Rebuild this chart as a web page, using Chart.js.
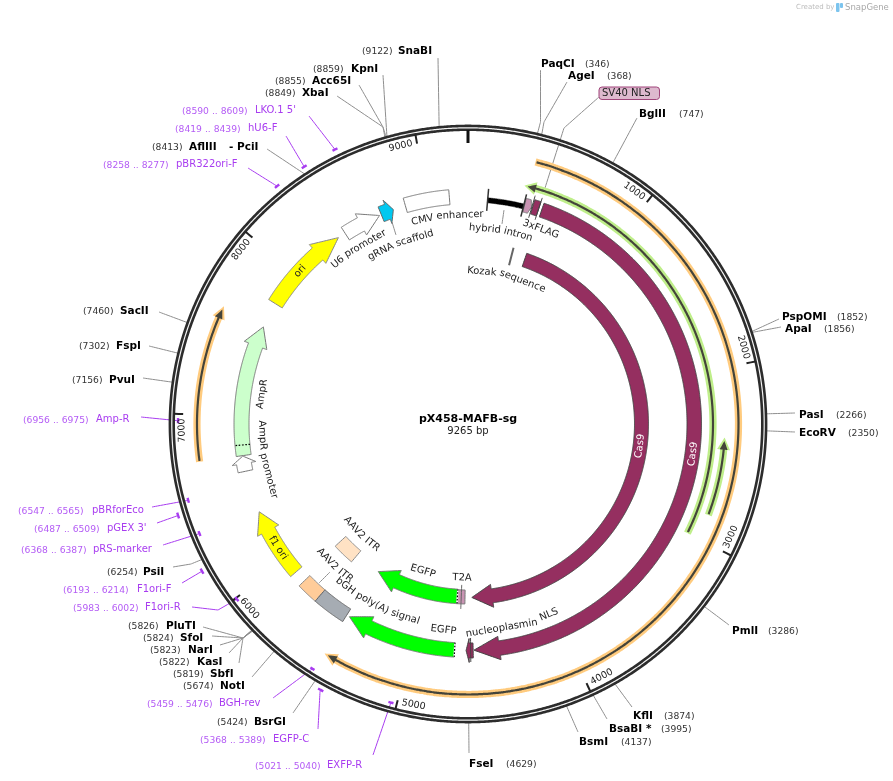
<!DOCTYPE html>
<html>
<head>
<meta charset="utf-8">
<style>html,body{margin:0;padding:0;background:#fff}canvas{display:block}</style>
<script src="https://cdn.jsdelivr.net/npm/chart.js@4/dist/chart.umd.js"></script>
</head>
<body>
<canvas id="c" width="893" height="781"></canvas>
<script>
// ---------- data (base-pair positions) ----------
const plasmidName = "pX458-MAFB-sg";
const plasmidSize = 9265;
const rulerTicks = [1000,2000,3000,4000,5000,6000,7000,8000,9000];

const enzymeNames = ["SnaBI","KpnI","Acc65I","XbaI","AflIII","SacII","FspI","PvuI","PsiI","PluTI","SfoI","NarI","KasI","SbfI","NotI","BsrGI","FseI","BsmI","BsaBI *","KflI","PmlI","EcoRV","PasI","ApaI","PspOMI","BglII","AgeI","PaqCI"];
const enzymeSites = [9122,8859,8855,8849,8413,7460,7302,7156,6254,5826,5824,5823,5822,5819,5674,5424,4629,4137,3995,3874,3286,2350,2266,1856,1852,747,368,346];

const primerNames = ["LKO.1 5'","hU6-F","pBR322ori-F","Amp-R","pBRforEco","pGEX 3'","pRS-marker","F1ori-F","F1ori-R","BGH-rev","EGFP-C","EXFP-R"];
const primerStarts = [8590,8419,8258,6956,6547,6487,6368,6193,5983,5459,5368,5021];
const primerEnds   = [8609,8439,8277,6975,6565,6509,6387,6214,6002,5476,5389,5040];

const arrowNames = ["Cas9","Cas9","EGFP","EGFP","ori","AmpR","AmpR promoter","f1 ori","U6 promoter","gRNA scaffold","SV40 NLS","nucleoplasmin NLS"];
const arrowTails = [489,489,4723,4720,7772,6743,6640,5901,8421,8686,373,4599];
const arrowNecks = [4427,4427,5263,5302,8197,7471,6691,6226,8539,8730,405,4625];
const arrowTips  = [4600,4594,5438,5446,8369,7602,6740,6362,8673,8771,420,4645];

const boxNames  = ["CMV enhancer","AAV2 ITR","bGH poly(A) signal","AAV2 ITR","T2A","3xFLAG"];
const boxStarts = [8853,5682,5466,5667,4658,427];
const boxEnds   = [9144,5822,5682,5852,4723,468];

const thinNames = ["hybrid intron"];
const thinStarts = [129];
const thinEnds = [368];

const trackTails = [378,2990,2844,6748];
const trackTips  = [5436,363,2414,7592];

// ---------- layout and styles (kept apart from the values) ----------
const CX = 468, CY = 424;
const arrowStyle = [
 {r:[166.5,180.5],f:'#952F60',s:'#444'},{r:[219,233.5],f:'#952F60',s:'#444'},
 {r:[165.5,180],f:'#00FF00',s:'#777'},{r:[219,233.5],f:'#00FF00',s:'#777'},
 {r:[219,235],f:'#FFFF00',s:'#888'},{r:[219,234],f:'#CCFFCC',s:'#777'},
 {r:[220,235],f:'#FFFFFF',s:'#777'},{r:[219,234],f:'#FFFF00',s:'#888'},
 {r:[219,234],f:'#FFFFFF',s:'#777'},{r:[219,235],f:'#00C8F0',s:'#666'},
 {r:[219,233],f:'#C994B3',s:'#777',h:0},{r:[219,234],f:'#952F60',s:'#444'}];
const boxStyle = [
 {r:[220,235],f:'#FFFFFF',s:'#777'},{r:[219,234],f:'#FFCC99',s:'#888'},
 {r:[219,234],f:'#A6ACB3',s:'#666'},{r:[166,180.5],f:'#FFE2C4',s:'#888'},
 {r:[166,180],f:'#C994B3',s:'#777'},{r:[219,234],f:'#952F60',s:'#444'}];
const trackStyle = [
 {R:270.5,halo:'#FFCB7E'},{R:245,halo:'#BFEE8A'},{R:257,halo:'#BFEE8A'},{R:271,halo:'#FFCB7E'}];
const boundaryTicks = [
 {bp:129,r:[214,236],c:'#333',w:1.5},{bp:368,r:[214,237],c:'#333',w:1.5},
 {bp:373,r:[164,182],c:'#666',w:2},{bp:422,r:[215,238],c:'#444',w:1},{bp:468,r:[215,238],c:'#444',w:1},
 {bp:4690,r:[161,185],c:'#666',w:1},{bp:4615,r:[214,238],c:'#444',w:1}];
const dottedEnds = [{bp:4723,r:[165.5,180]},{bp:4720,r:[219,233.5]},{bp:6812,r:[219,234],black:true}];

const enzymeLayout = [
 {nameX:398,numX:362,y:50,path:[[438,58]]},
 {nameX:351,numX:313,y:68,path:[[383,75]]},
 {nameX:312,numX:275,y:80,path:[[359,85],[383,127]]},
 {nameX:302,numX:265,y:92,path:[[337,96],[383,127]]},
 {nameX:189,numX:152,y:146,path:[[267,149]],extra:{t:"- PciI",x:229}},
 {nameX:120,numX:83,y:310,path:[[159,312]]},
 {nameX:116,numX:79,y:345,path:[[149,346]]},
 {nameX:109,numX:72,y:379,path:[[143,378]]},
 {nameX:143,numX:107,y:571,path:[[173,567],[191,564]]},
 {nameX:166,numX:128,y:625,path:[[203,627],[243,638]]},
 {nameX:180,numX:143,y:637,path:[[212,636],[243,638]]},
 {nameX:188,numX:150,y:649,path:[[220,645],[243,638]]},
 {nameX:197,numX:159,y:661,path:[[229,653],[243,638]]},
 {nameX:210,numX:173,y:673,path:[[239,663],[243,638]]},
 {nameX:220,numX:183,y:685,path:[[252,677]]},
 {nameX:254,numX:217,y:721,path:[[293,713]]},
 {nameX:469,numX:506,y:763,path:[[469,753]]},
 {nameX:579,numX:621,y:741,path:[[578,732]]},
 {nameX:609,numX:661,y:728,path:[[607,719]]},
 {nameX:633,numX:664,y:715,path:[[632,707]]},
 {nameX:732,numX:768,y:630,path:[[729,625]]},
 {nameX:799,numX:848,y:432,path:[[795,432]]},
 {nameX:799,numX:836,y:414,path:[[795,413]]},
 {nameX:785,numX:824,y:328,path:[[781,327]]},
 {nameX:782,numX:837,y:316,path:[[779,319]]},
 {nameX:639,numX:679,y:113,path:[[637,118]]},
 {nameX:568,numX:607,y:75,path:[[567,82],[544,122]]},
 {nameX:541,numX:585,y:63,path:[[540.5,70],[540.5,122]]}];
const primerLayout = [
 {nameX:255,numX:182,y:110,path:[[309,116]],r:305},
 {nameX:248,numX:175,y:128,path:[[286,136]],r:305},
 {nameX:176,numX:103,y:164,path:[[248,168]],r:305},
 {nameX:96,numX:23,y:419,path:[[141,417]],r:290},
 {nameX:92,numX:18,y:510,path:[[152,507]],r:290},
 {nameX:107,numX:34,y:528,path:[[157,523]],r:304},
 {nameX:93,numX:21,y:549,path:[[163,545]],r:290},
 {nameX:137,numX:63,y:589,path:[[182,583]],r:304},
 {nameX:145,numX:73,y:607,path:[[192,607],[218,610]],r:290},
 {nameX:219,numX:147,y:703,path:[[273,698]],r:290},
 {nameX:273,numX:200,y:739,path:[[318,729],[320,692]],r:304},
 {nameX:327,numX:255,y:765,path:[[373,755]],r:289}];
// curved labels: text, centre angle (deg), radius, colour
const curvedLabels = [
 ["CMV enhancer",354.3,209],["hybrid intron",9.7,196],["3xFLAG",20.5,208],["gRNA scaffold",339.4,193],
 ["U6 promoter",328,207.5],["Kozak sequence",14.8,153],["ori",312.3,227],["f1 ori",236.9,227],
 ["AmpR",278.3,208],["AmpR promoter",260,206],["AAV2 ITR",224,154],["AAV2 ITR",223.3,195],
 ["bGH poly(A) signal",207,203],["EGFP",186.8,207.5],["nucleoplasmin NLS",167.5,207],["EGFP",197,154],
 ["T2A",182.2,154],["Cas9",97.3,173.4,'#FFFFFF'],["Cas9",97.6,227,'#FFFFFF']];
const extraLeaders = [
 [[392,222],[396,235]],[[504,210],[502,224]],[[330,572],[319,583]],[[599,97],[564,128],[545,188]]];
const FONT = '"DejaVu Sans", Verdana, sans-serif';

// ---------- geometry through polar conversion ----------
const deg = bp => bp*360/plasmidSize;
const polar = (r,d) => ({x:r*Math.sin(d*Math.PI/180), y:r*Math.cos(d*Math.PI/180)});
const page = (px,py) => ({x:px-CX, y:CY-py});
const arc = (r,d0,d1) => { const n=Math.max(1,Math.ceil(Math.abs(d1-d0)/0.5)); const a=[]; for(let i=0;i<=n;i++) a.push(polar(r,d0+(d1-d0)*i/n)); return a; };

const datasets = [];
function add(points,o){
  datasets.push({data:points,showLine:true,pointRadius:0,tension:0.0001,parsing:false,
    borderColor:o.s||'rgba(0,0,0,0)',borderWidth:o.w===undefined?1:o.w,
    backgroundColor:o.f||'rgba(0,0,0,0)',fill:o.f?'shape':false,
    borderDash:o.dash||[],borderCapStyle:o.cap||'butt',borderJoinStyle:'miter',order:-datasets.length});
}
function arrow(tail,neck,tip,rI,rO,hI,hO,o){
  const a=deg(tail),n=deg(neck),t=deg(tip);
  const pts=[...arc(rO,a,n),polar(hO,n),polar((rI+rO)/2,t),polar(hI,n),...arc(rI,n,a)];
  pts.push(pts[0]); add(pts,o);
}
function box(s,e,rI,rO,o){
  const a=deg(s),b=deg(e);
  const pts=[...arc(rO,a,b),...arc(rI,b,a)]; pts.push(pts[0]); add(pts,o);
}
function radial(bp,r0,r1,o){ add([polar(r0,deg(bp)),polar(r1,deg(bp))],o); }

// leader lines from enzymes and primers to the ring
enzymeNames.forEach((n,i)=>{
  const p=enzymeLayout[i].path.map(q=>page(q[0],q[1]));
  p.push(polar(298,deg(enzymeSites[i])));
  add(p,{s:'#8E8E8E',w:1});
});
primerNames.forEach((n,i)=>{
  const L=primerLayout[i], mid=deg((primerStarts[i]+primerEnds[i])/2);
  const p=L.path.map(q=>page(q[0],q[1])); p.push(polar(L.r,mid));
  add(p,{s:'#A83CF0',w:1});
});
extraLeaders.forEach(l=>add(l.map(q=>page(q[0],q[1])),{s:'#8E8E8E',w:1}));

// ring
add(arc(296.2,0,360),{s:'#2C2C2C',w:6.4});
add(arc(296.2,0,360),{s:'#F4F4F4',w:1.2});
rulerTicks.forEach(t=>radial(t,285,294,{s:'#222',w:2}));
radial(0,281,294,{s:'#111',w:3});
// primer bars
primerNames.forEach((n,i)=>{
  add(arc(primerLayout[i].r,deg(primerStarts[i])-0.15,deg(primerEnds[i])+0.15),{s:'#A83CF0',w:2.4});
});
// thin feature tracks
trackTails.forEach((t,i)=>{
  const R=trackStyle[i].R, tip=trackTips[i], dir=Math.sign(tip-t);
  const neck=tip-dir*50;
  arrow(t-dir*6,neck,tip+dir*20,R-3.6,R+3.6,R-6.5,R+6.5,{f:trackStyle[i].halo});
  arrow(t,neck,tip,R-1.1,R+1.1,R-4,R+4,{f:'#44443A'});
});
// boxes and arrows
boxStarts.forEach((s,i)=>{ const B=boxStyle[i]; box(s,boxEnds[i],B.r[0],B.r[1],{f:B.f,s:B.s}); });
arrowTails.forEach((t,i)=>{
  const A=arrowStyle[i], h=A.h===undefined?4.5:A.h;
  arrow(t,arrowNecks[i],arrowTips[i],A.r[0],A.r[1],A.r[0]-h,A.r[1]+h,{f:A.f,s:A.s});
});
// thin black intron
thinStarts.forEach((s,i)=>box(s,thinEnds[i],222,227,{f:'#000',s:'#000',w:0.5}));
boundaryTicks.forEach(b=>radial(b.bp,b.r[0],b.r[1],{s:b.c,w:b.w}));
dottedEnds.forEach(d=>{
  if(!d.black) radial(d.bp,d.r[0],d.r[1],{s:'#FFFFFF',w:1.6});
  radial(d.bp,d.r[0],d.r[1],{s:'#000',w:1.2,dash:[1.6,1.6]});
});

// ---------- text plugin ----------
const textPlugin = {
  id:'plasmidText',
  afterDatasetsDraw(chart){
    const ctx=chart.ctx, sx=chart.scales.x, sy=chart.scales.y;
    const X=v=>sx.getPixelForValue(v), Y=v=>sy.getPixelForValue(v);
    const put=(t,x,y,font,col,align)=>{ctx.font=font;ctx.fillStyle=col;ctx.textAlign=align||'left';ctx.textBaseline='middle';ctx.fillText(t,x,y);};
    const rotText=(t,p,rot,font,col)=>{ctx.save();ctx.translate(X(p.x),Y(p.y));ctx.rotate(rot*Math.PI/180);put(t,0,0,font,col,'center');ctx.restore();};
    ctx.save();
    const bold='bold 10.5px '+FONT, reg9='9.2px '+FONT, reg10='10px '+FONT;
    enzymeNames.forEach((n,i)=>{
      const L=enzymeLayout[i];
      put(n,L.nameX,L.y+0.8,bold,'#000');
      if(L.extra) put(L.extra.t,L.extra.x,L.y+0.8,bold,'#000');
      put('('+enzymeSites[i]+')',L.numX,L.y+1.5,reg9,'#333');
    });
    primerNames.forEach((n,i)=>{
      const L=primerLayout[i];
      put(n,L.nameX,L.y+0.8,reg10,'#A83CF0');
      put('('+primerStarts[i]+' .. '+primerEnds[i]+')',L.numX,L.y+1.2,reg9,'#B45CF5');
    });
    // ruler labels
    rulerTicks.forEach(t=>{
      const d=deg(t), c=d-3.3;
      const rot=(d>90&&d<270)?c-180:c;
      rotText(String(t),polar(286,c),rot,'9.5px '+FONT,'#222');
    });
    // curved labels, placed word by word along their arc
    curvedLabels.forEach(l=>{
      const [txt,ang,r,col]=l, flip=ang>90&&ang<270;
      ctx.font=reg10;
      const words=txt.split(' '), sp=ctx.measureText(' ').width;
      const ws=words.map(w=>ctx.measureText(w).width);
      const total=ws.reduce((a,b)=>a+b,0)+sp*(words.length-1);
      let s=-total/2;
      words.forEach((w,k)=>{
        const mid=s+ws[k]/2, delta=(mid/r)*180/Math.PI;
        const a=flip?ang-delta:ang+delta;
        rotText(w,polar(r,a),flip?a-180:a,reg10,col||'#222');
        s+=ws[k]+sp;
      });
    });
    // SV40 NLS flag
    ctx.beginPath();ctx.roundRect(X(599-CX),Y(CY-87),60.5,12.5,3);
    ctx.fillStyle='#DDB9CE';ctx.fill();ctx.strokeStyle='#A0457A';ctx.lineWidth=1;ctx.stroke();
    put('SV40 NLS',602,93.5,reg10,'#222');
    // centre title
    put(plasmidName,468,419.5,'bold 11px '+FONT,'#000','center');
    put(plasmidSize+' bp',468,431.5,reg10,'#222','center');
    // credit
    put('Created by',796,7.5,'7px '+FONT,'#BDBDBD');
    ctx.fillStyle='#7CC4EE';ctx.beginPath();ctx.roundRect(836,3,3.5,9,1);ctx.roundRect(840,3,3,5,1);ctx.fill();
    put('SnapGene',845,7.5,'8.5px '+FONT,'#A8A8A8');
    ctx.restore();
  }
};

new Chart(document.getElementById('c').getContext('2d'),{
  type:'scatter',
  data:{datasets},
  options:{
    responsive:false,animation:false,events:[],
    layout:{padding:0},
    scales:{x:{type:'linear',min:-CX,max:893-CX,display:false},
            y:{type:'linear',min:CY-781,max:CY,display:false}},
    plugins:{legend:{display:false},tooltip:{enabled:false},title:{display:false}}
  },
  plugins:[textPlugin]
});
</script>
</body>
</html>
